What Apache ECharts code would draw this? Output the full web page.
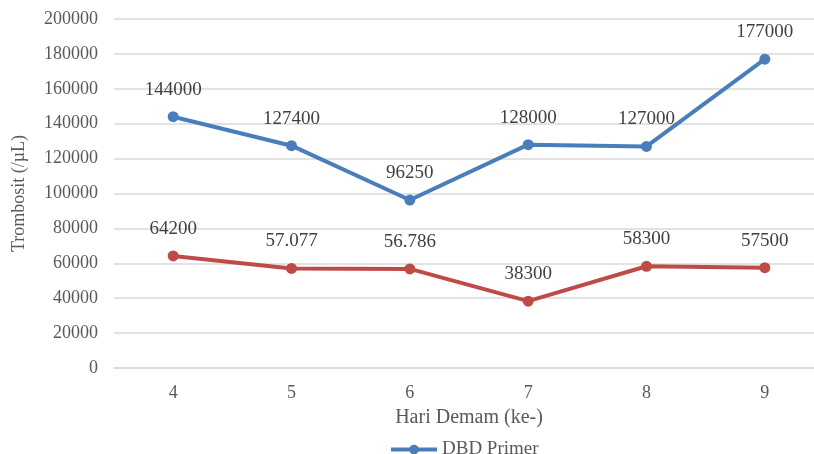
<!DOCTYPE html>
<html>
<head>
<meta charset="utf-8">
<script src="https://cdn.jsdelivr.net/npm/echarts@6/dist/echarts.min.js"></script>
<style>html,body{margin:0;padding:0;background:#fff;overflow:hidden;width:814px;height:454px}#c{width:824px;height:454px}</style>
</head>
<body>
<div id="c"></div>
<script>
const categories = ['4', '5', '6', '7', '8', '9'];
const primerValues = [144000, 127400, 96250, 128000, 127000, 177000];
const primerLabels = ['144000', '127400', '96250', '128000', '127000', '177000'];
const sekunderValues = [64200, 57077, 56786, 38300, 58300, 57500];
const sekunderLabels = ['64200', '57.077', '56.786', '38300', '58300', '57500'];
const yTicks = { min: 0, max: 200000, interval: 20000 };

const font = 'Liberation Serif';
const txt = '#595959';
const chart = echarts.init(document.getElementById('c'));
chart.setOption({
  animation: false,
  textStyle: { fontFamily: font },
  grid: { left: 114, right: 0, top: 19, bottom: 86, containLabel: false },
  legend: {
    data: ['DBD Primer'],
    left: 384, top: 435,
    itemWidth: 46, itemHeight: 12, itemGap: 4,
    lineStyle: { width: 4 },
    textStyle: { fontFamily: font, fontSize: 19, color: txt }
  },
  xAxis: {
    type: 'category', data: categories, boundaryGap: true,
    name: 'Hari Demam (ke-)', nameLocation: 'middle', nameGap: 40,
    nameTextStyle: { fontFamily: font, fontSize: 20, color: txt },
    axisLine: { lineStyle: { color: '#d9d9d9', width: 1.5 } },
    axisTick: { show: false },
    axisLabel: { fontFamily: font, fontSize: 18, color: txt, margin: 16 }
  },
  yAxis: {
    type: 'value', min: yTicks.min, max: yTicks.max, interval: yTicks.interval,
    name: 'Trombosit (/µL)', nameLocation: 'middle', nameGap: 86, nameRotate: 90,
    nameTextStyle: { fontFamily: font, fontSize: 18, color: txt },
    axisLine: { show: false }, axisTick: { show: false },
    axisLabel: { fontFamily: font, fontSize: 18, color: txt, margin: 16, formatter: v => String(v) },
    splitLine: { lineStyle: { color: '#d9d9d9', width: 1.5 } }
  },
  series: [
    {
      name: 'DBD Primer', type: 'line', data: primerValues,
      symbol: 'circle', symbolSize: 11,
      lineStyle: { color: '#4a7ebb', width: 4 },
      itemStyle: { color: '#4a7ebb' },
      label: { show: true, position: 'top', distance: 12, fontFamily: font, fontSize: 19, color: '#404040',
        formatter: p => primerLabels[p.dataIndex] }
    },
    {
      name: 'DBD Sekunder', type: 'line', data: sekunderValues,
      symbol: 'circle', symbolSize: 11,
      lineStyle: { color: '#be4b48', width: 4 },
      itemStyle: { color: '#be4b48' },
      label: { show: true, position: 'top', distance: 12, fontFamily: font, fontSize: 19, color: '#404040',
        formatter: p => sekunderLabels[p.dataIndex] }
    }
  ]
});
</script>
</body>
</html>
